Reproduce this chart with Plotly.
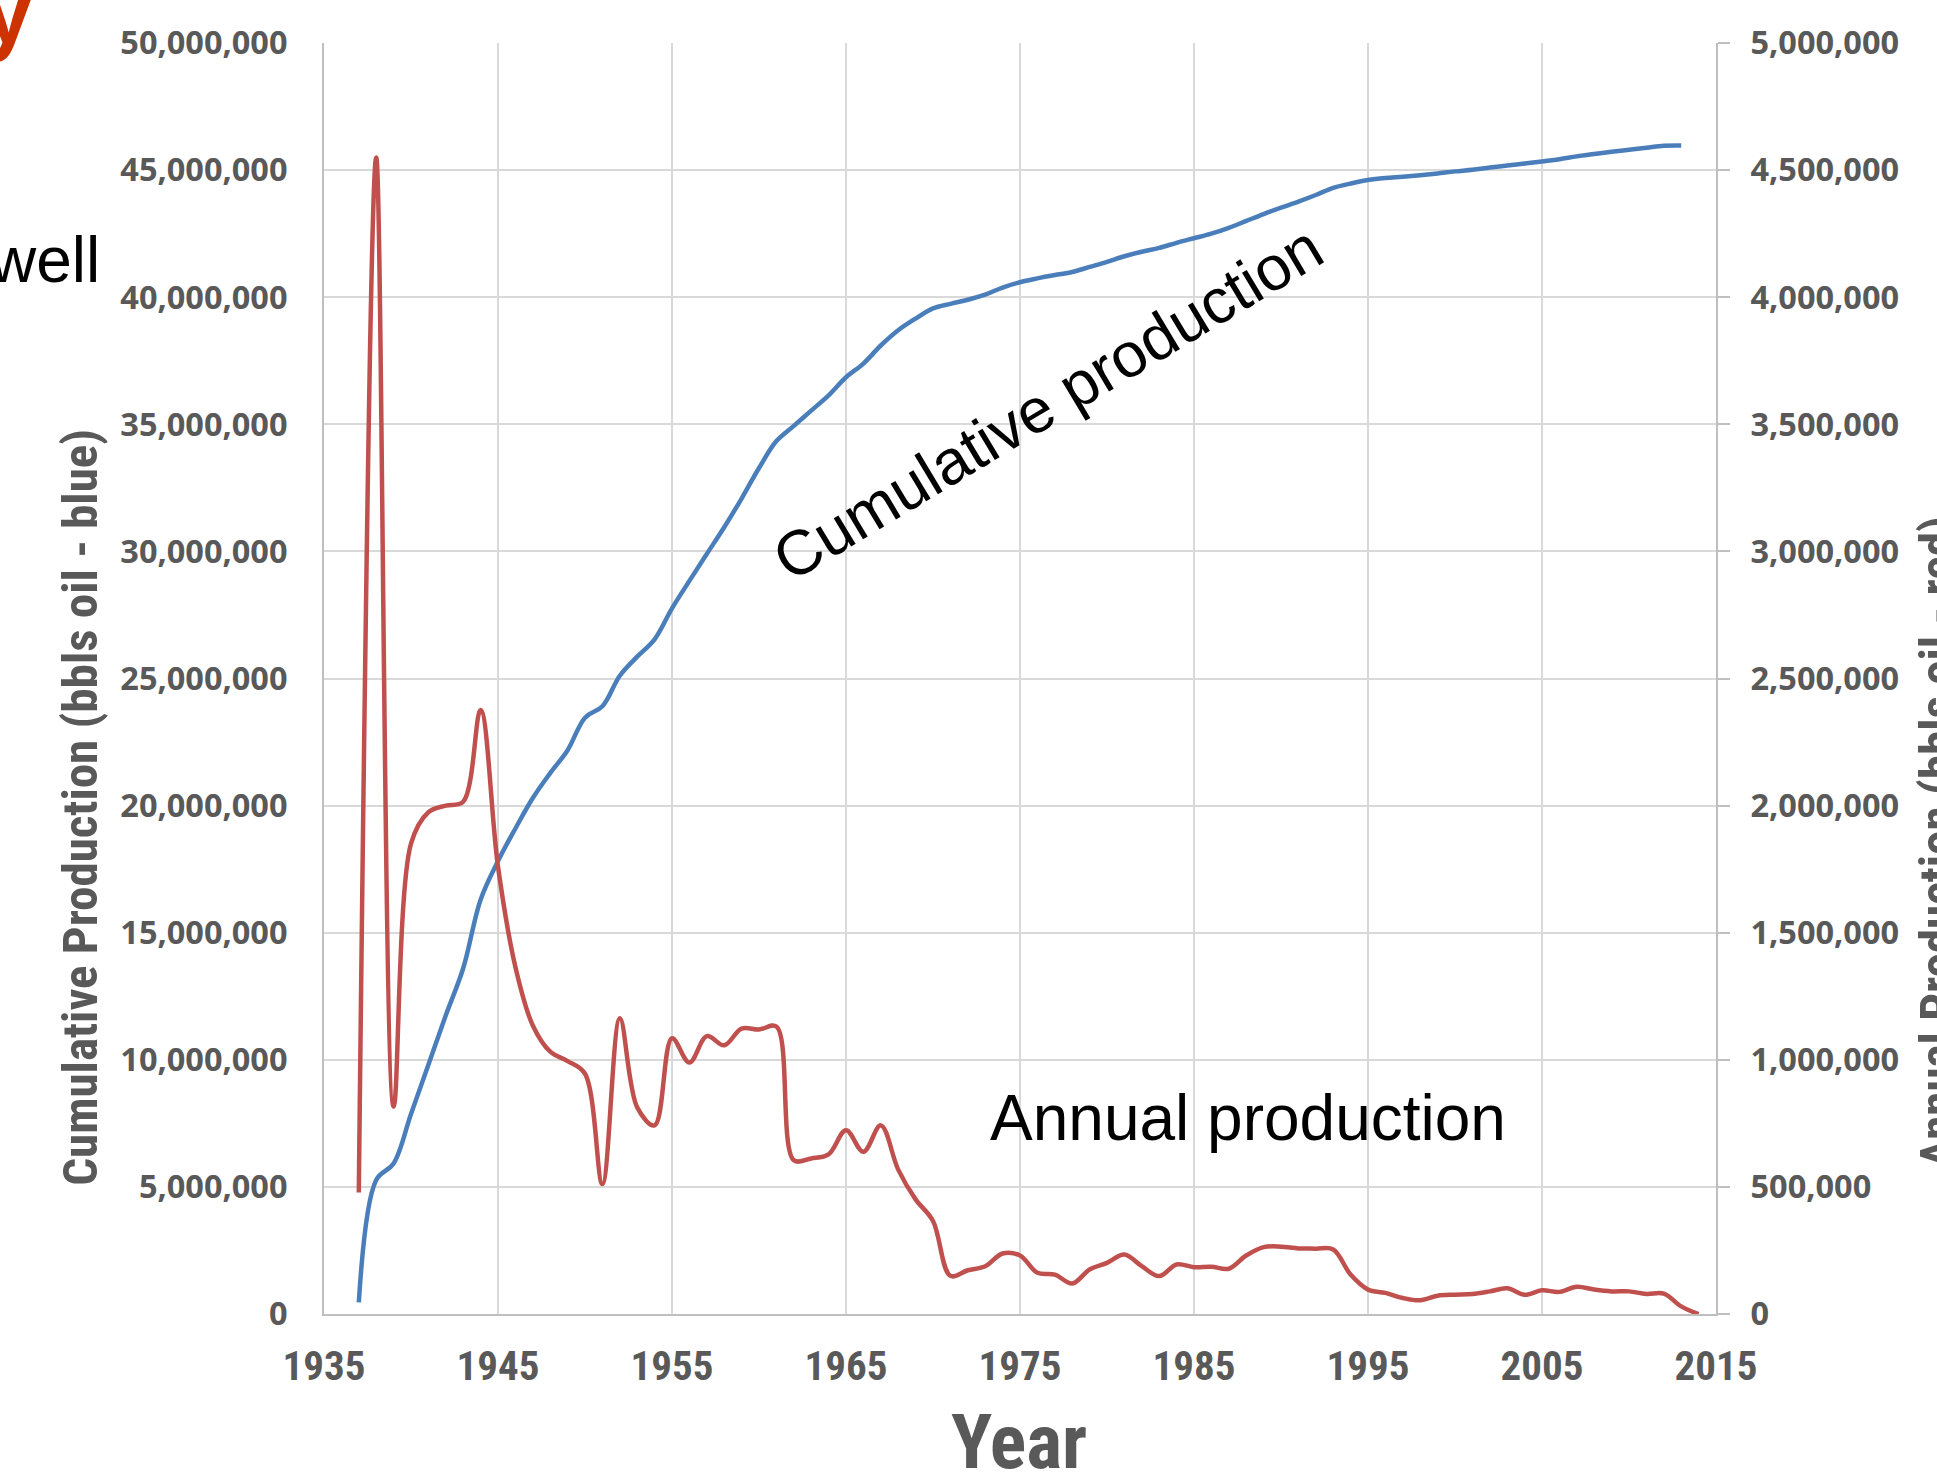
import plotly.graph_objects as go

# Annual and cumulative oil production of the well, by year
years_annual = list(range(1937, 2015))
annual_bbl = [
    478000, 4550000, 816000, 1850000, 1974000, 2000000, 2015000, 2376000, 1760000, 1365000,
    1135000, 1032000, 995000, 945000, 511000, 1163000, 813000, 742000, 1085000, 989000,
    1093000, 1057000, 1123000, 1119000, 1131000, 605000, 612000, 628000, 723000, 638000,
    742000, 568000, 451000, 366000, 150000, 172000, 188000, 238000, 230000, 162000,
    155000, 120000, 175000, 201000, 234000, 188000, 149000, 195000, 184000, 186000,
    178000, 230000, 263000, 265000, 258000, 257000, 254000, 155000, 96000, 83000,
    63000, 54000, 72000, 76000, 79000, 89000, 101000, 76000, 93000, 87000,
    107000, 96000, 89000, 89000, 79000, 80000, 30000, 0,
]

years_cumulative = list(range(1937, 2014))
cumulative_bbl = [
    457000, 5270000, 5920000, 7870000, 9810000, 11750000, 13600000, 16300000, 17820000, 19100000,
    20300000, 21280000, 22180000, 23460000, 23910000, 25110000, 25860000, 26540000, 27760000, 28840000,
    29900000, 30950000, 32080000, 33280000, 34340000, 34940000, 35540000, 36140000, 36850000, 37390000,
    38100000, 38700000, 39160000, 39560000, 39740000, 39900000, 40100000, 40380000, 40590000, 40740000,
    40870000, 40990000, 41190000, 41390000, 41610000, 41790000, 41940000, 42140000, 42320000, 42500000,
    42730000, 43000000, 43270000, 43520000, 43760000, 44020000, 44300000, 44470000, 44610000, 44690000,
    44740000, 44800000, 44870000, 44950000, 45010000, 45100000, 45180000, 45260000, 45340000, 45430000,
    45540000, 45630000, 45720000, 45800000, 45880000, 45960000, 45970000,
]

BLUE = "#4A7EBB"
RED = "#C0504D"
TICK_GREY = "#595959"
GRID = "#D9D9D9"
AXIS = "#BFBFBF"
NARROW = "Liberation Sans Narrow, Arial Narrow, Roboto Condensed, Open Sans, sans-serif"

fig = go.Figure()
fig.add_trace(go.Scatter(
    x=years_cumulative, y=cumulative_bbl, mode="lines",
    line=dict(color=BLUE, width=4.5, shape="spline", smoothing=1),
    yaxis="y", hoverinfo="skip",
))
fig.add_trace(go.Scatter(
    x=years_annual, y=annual_bbl, mode="lines",
    line=dict(color=RED, width=4.5, shape="spline", smoothing=1),
    yaxis="y2", hoverinfo="skip",
))

fig.update_layout(
    width=1937, height=1476,
    margin=dict(l=324, r=221, t=43, b=162, pad=0),
    paper_bgcolor="white", plot_bgcolor="white",
    showlegend=False,
    xaxis=dict(
        range=[1935, 2015], tick0=1935, dtick=10,
        showgrid=True, gridcolor=GRID, gridwidth=2,
        showline=True, linecolor=AXIS, linewidth=2,
        zeroline=False, ticks="",
        tickfont=dict(family=NARROW, size=41, color=TICK_GREY, weight="bold"),
        ticklabelstandoff=15,
    ),
    yaxis=dict(
        range=[0, 50000000], tick0=0, dtick=5000000, tickformat=",d",
        showgrid=True, gridcolor=GRID, gridwidth=2,
        showline=True, linecolor=AXIS, linewidth=2,
        zeroline=False, ticks="",
        tickfont=dict(family="Open Sans, sans-serif", size=32.5, color=TICK_GREY, weight="bold"),
        ticklabelstandoff=28,
    ),
    yaxis2=dict(
        range=[0, 5000000], tick0=0, dtick=500000, tickformat=",d",
        overlaying="y", side="right",
        showgrid=False, zeroline=False,
        showline=True, linecolor=AXIS, linewidth=2,
        ticks="outside", ticklen=12, tickwidth=2, tickcolor=AXIS,
        tickfont=dict(family="Open Sans, sans-serif", size=32.5, color=TICK_GREY, weight="bold"),
        ticklabelstandoff=14,
    ),
)

annotations = [
    # axis titles
    dict(text="Cumulative Production (bbls oil - blue)", x=-0.1746, y=0.399,
         textangle=-90, font=dict(family=NARROW, size=49, color=TICK_GREY, weight="bold")),
    dict(text="Annual Production (bbls oil - red)", x=1.1595, y=0.3714,
         textangle=-90, font=dict(family=NARROW, size=49, color=TICK_GREY, weight="bold")),
    dict(text="Year", x=0.4993, y=-0.1005,
         font=dict(family=NARROW, size=76, color=TICK_GREY, weight="bold")),
    # curve labels
    dict(text="Cumulative production", x=0.5195, y=0.717, textangle=-31,
         font=dict(family="Liberation Sans, Arial, sans-serif", size=63, color="black")),
    dict(text="Annual production", x=0.6638, y=0.1542,
         font=dict(family="Liberation Sans, Arial, sans-serif", size=64, color="black")),
    # slide text at the left edge
    dict(text="y", x=-0.2076, y=0.9835, xanchor="right", yanchor="bottom",
         font=dict(family="Liberation Sans, Arial, sans-serif", size=90, color="#CC3300", weight="bold")),
    dict(text="well", x=-0.1595, y=0.799, xanchor="right", yanchor="bottom",
         font=dict(family="Liberation Sans, Arial, sans-serif", size=64, color="black")),
]
for a in annotations:
    a.setdefault("xanchor", "center")
    a.setdefault("yanchor", "middle")
    a.update(xref="paper", yref="paper", showarrow=False)
fig.update_layout(annotations=annotations)

fig.write_html("out.html")
